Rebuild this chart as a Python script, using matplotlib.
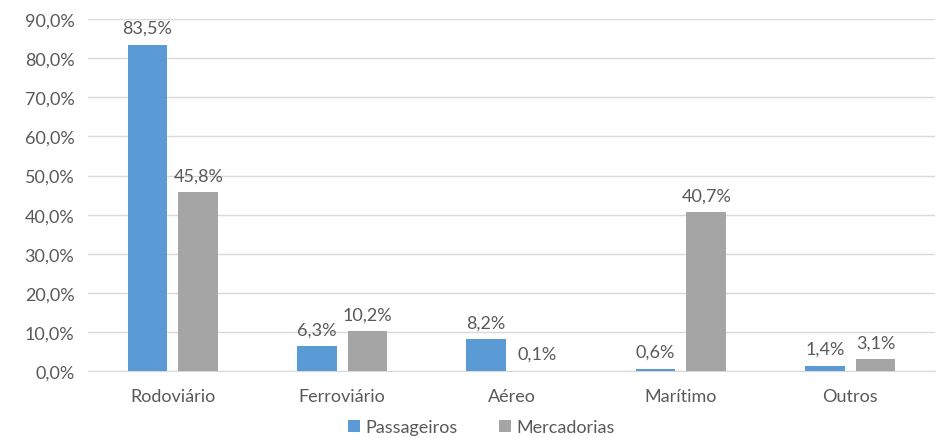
import numpy as np
import matplotlib
matplotlib.use("Agg")
import matplotlib.pyplot as plt
from matplotlib.ticker import FuncFormatter

modos = ["Rodoviário", "Ferroviário", "Aéreo", "Marítimo", "Outros"]
passageiros = [83.5, 6.3, 8.2, 0.6, 1.4]
mercadorias = [45.8, 10.2, 0.1, 40.7, 3.1]

plt.rcParams['font.family'] = ['Lato', 'DejaVu Sans']
text_color = "#595959"
fs = 13

fig = plt.figure(figsize=(9.49, 4.39), dpi=100)
ax = fig.add_axes([0.093, 0.1526, 0.892, 0.8014])

x = np.arange(len(modos))
w = 0.235
gap = 0.065
b1 = ax.bar(x - (w + gap) / 2, passageiros, w, color="#5B9BD5", label="Passageiros", zorder=3)
b2 = ax.bar(x + (w + gap) / 2, mercadorias, w, color="#A5A5A5", label="Mercadorias", zorder=3)

def fmt(v):
    return f"{v:.1f}%".replace(".", ",")

for bars, vals in ((b1, passageiros), (b2, mercadorias)):
    for r, v in zip(bars, vals):
        ax.text(r.get_x() + r.get_width() / 2, v + 2.2, fmt(v), ha="center", va="bottom",
                fontsize=fs, color=text_color)

ax.set_xlim(-0.5, len(modos) - 0.5)
ax.set_ylim(0, 90)
ax.set_yticks(np.arange(0, 91, 10))
ax.yaxis.set_major_formatter(FuncFormatter(lambda v, p: fmt(v)))
ax.set_xticks(x)
ax.set_xticklabels(modos)
ax.tick_params(axis="both", length=0, labelsize=fs, colors=text_color)
ax.tick_params(axis="x", pad=12)
ax.tick_params(axis="y", pad=10)

ax.grid(axis="y", color="#D9D9D9", linewidth=1, zorder=0)
for s in ("top", "right", "left"):
    ax.spines[s].set_visible(False)
ax.spines["bottom"].set_color("#D9D9D9")

# legend centred under the plot, in figure coordinates
leg = fig.legend(handles=[b1, b2], loc="center", bbox_to_anchor=(0.507, 0.025),
                 ncol=2, frameon=False, fontsize=fs, handlelength=0.65, handleheight=0.65,
                 handletextpad=0.3, columnspacing=2.3, borderpad=0)
for t in leg.get_texts():
    t.set_color(text_color)

fig.savefig("out.png", dpi=100)
